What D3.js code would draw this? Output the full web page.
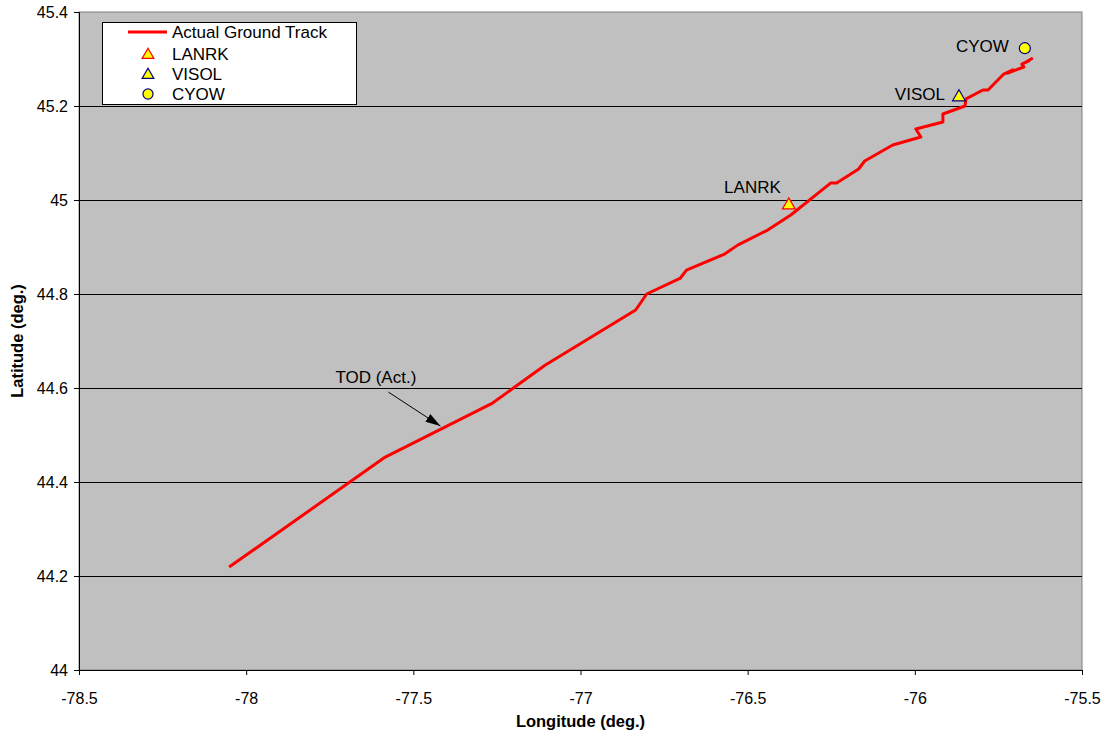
<!DOCTYPE html>
<html>
<head>
<meta charset="utf-8">
<script src="https://cdn.jsdelivr.net/npm/d3@7"></script>
<style>
  body { margin: 0; background: #fff; }
  svg { display: block; font-family: "Liberation Sans", Arial, sans-serif; }
</style>
</head>
<body>
<svg id="chart" width="1106" height="737"></svg>
<script>
// Ground track (longitude, latitude in degrees)
const trackLon = [-78.051, -77.584, -77.263, -77.105, -76.835, -76.802, -76.701, -76.683,
  -76.569, -76.530, -76.440, -76.371, -76.252, -76.234, -76.168, -76.150, -76.066,
  -75.982, -75.997, -75.916, -75.916, -75.850, -75.847, -75.796, -75.781, -75.734,
  -75.707, -75.722, -75.674, -75.680, -75.659, -75.674, -75.647];
const trackLat = [44.219, 44.453, 44.568, 44.649, 44.766, 44.800, 44.834, 44.851,
  44.885, 44.904, 44.936, 44.968, 45.036, 45.036, 45.066, 45.083, 45.117,
  45.134, 45.151, 45.166, 45.183, 45.200, 45.215, 45.234, 45.234, 45.268,
  45.277, 45.270, 45.283, 45.289, 45.296, 45.291, 45.302];

// Waypoints
const wpNames = ["LANRK", "VISOL", "CYOW"];
const wpLon = [-76.377, -75.868, -75.671];
const wpLat = [44.991, 45.221, 45.323];

// Top of descent (actual)
const todLon = -77.419;
const todLat = 44.519;

// Axis ticks
const xTicks = [-78.5, -78, -77.5, -77, -76.5, -76, -75.5];
const yTicks = [44, 44.2, 44.4, 44.6, 44.8, 45, 45.2, 45.4];

const svg = d3.select("#chart");
const plotL = 79, plotR = 1082, plotT = 12, plotB = 670;

const x = d3.scaleLinear().domain([-78.5, -75.5]).range([plotL, plotR]);
const y = d3.scaleLinear().domain([44, 45.4]).range([plotB, plotT]);

// plot area
svg.append("rect")
  .attr("x", plotL).attr("y", plotT)
  .attr("width", plotR - plotL).attr("height", plotB - plotT)
  .attr("fill", "#c0c0c0")
  .attr("stroke", "#808080").attr("stroke-width", 1);

// horizontal gridlines
svg.append("g")
  .selectAll("line")
  .data(yTicks.slice(1, -1))
  .join("line")
  .attr("x1", plotL).attr("x2", plotR)
  .attr("y1", d => Math.round(y(d)) + 0.5).attr("y2", d => Math.round(y(d)) + 0.5)
  .attr("stroke", "#000").attr("stroke-width", 1);

// axes
const fmt = d => String(d);
const xAxis = svg.append("g")
  .attr("transform", `translate(0,${plotB})`)
  .call(d3.axisBottom(x).tickValues(xTicks).tickFormat(fmt).tickSize(5).tickPadding(18));
const yAxis = svg.append("g")
  .attr("transform", `translate(${plotL},0)`)
  .call(d3.axisLeft(y).tickValues(yTicks).tickFormat(fmt).tickSize(5).tickPadding(6));
[xAxis, yAxis].forEach(g => {
  g.select(".domain").attr("stroke", "#000");
  g.selectAll(".tick line").attr("stroke", "#000");
  g.selectAll(".tick text")
    .attr("fill", "#000")
    .style("font-size", "16px")
    .style("font-family", "'Liberation Sans', Arial, sans-serif");
});

// axis titles
svg.append("text")
  .attr("x", (plotL + plotR) / 2).attr("y", 727)
  .attr("text-anchor", "middle")
  .style("font-size", "16.5px").style("font-weight", "bold")
  .text("Longitude (deg.)");
svg.append("text")
  .attr("transform", `translate(23,${(plotT + plotB) / 2}) rotate(-90)`)
  .attr("text-anchor", "middle")
  .style("font-size", "16.5px").style("font-weight", "bold")
  .text("Latitude (deg.)");

// ground track
const track = trackLon.map((lon, i) => [lon, trackLat[i]]);
svg.append("path")
  .datum(track)
  .attr("fill", "none")
  .attr("stroke", "#ff0000")
  .attr("stroke-width", 3)
  .attr("stroke-linejoin", "round")
  .attr("d", d3.line().x(d => x(d[0])).y(d => y(d[1])));

// waypoint markers
const tri = d3.symbol().type(d3.symbolTriangle).size(70);
const circ = d3.symbol().type(d3.symbolCircle).size(95);
const wpStroke = ["#ff0000", "#000080", "#000080"];
const wpShape = [tri, tri, circ];
wpNames.forEach((name, i) => {
  svg.append("path")
    .attr("d", wpShape[i]())
    .attr("transform", `translate(${x(wpLon[i])},${y(wpLat[i]) + (i < 2 ? 1 : 0)})`)
    .attr("fill", "#ffff00")
    .attr("stroke", wpStroke[i]).attr("stroke-width", 1.2);
});

// waypoint labels
const lblDx = [-8, -14, -16];
const lblDy = [-11, 4, 4];
wpNames.forEach((name, i) => {
  svg.append("text")
    .attr("x", x(wpLon[i]) + lblDx[i])
    .attr("y", y(wpLat[i]) + lblDy[i])
    .attr("text-anchor", "end")
    .style("font-size", "17px")
    .text(name);
});

// TOD annotation
svg.append("defs").append("marker")
  .attr("id", "arrow")
  .attr("viewBox", "0 0 10 10")
  .attr("refX", 10).attr("refY", 5)
  .attr("markerWidth", 15).attr("markerHeight", 9)
  .attr("markerUnits", "userSpaceOnUse")
  .attr("orient", "auto")
  .attr("preserveAspectRatio", "none")
  .append("path")
  .attr("d", "M0,0 L10,5 L0,10 Z")
  .attr("fill", "#000");
const tx = x(todLon), ty = y(todLat);
svg.append("line")
  .attr("x1", tx - 52).attr("y1", ty - 34)
  .attr("x2", tx).attr("y2", ty)
  .attr("stroke", "#000").attr("stroke-width", 1)
  .attr("marker-end", "url(#arrow)");
svg.append("text")
  .attr("x", tx - 105).attr("y", ty - 43)
  .style("font-size", "17px")
  .text("TOD (Act.)");

// legend
const lg = svg.append("g");
lg.append("rect")
  .attr("x", 102.5).attr("y", 22.5).attr("width", 254).attr("height", 82)
  .attr("fill", "#fff").attr("stroke", "#000").attr("stroke-width", 1);
lg.append("line")
  .attr("x1", 128).attr("x2", 167).attr("y1", 32).attr("y2", 32)
  .attr("stroke", "#ff0000").attr("stroke-width", 3);
lg.append("text").attr("x", 172).attr("y", 38).style("font-size", "17px").text("Actual Ground Track");
const legRows = [54, 74, 94];
wpNames.forEach((name, i) => {
  lg.append("path")
    .attr("d", d3.symbol().type(i < 2 ? d3.symbolTriangle : d3.symbolCircle).size(i < 2 ? 60 : 80)())
    .attr("transform", `translate(148,${legRows[i] + (i < 2 ? 1 : 0)})`)
    .attr("fill", "#ffff00")
    .attr("stroke", wpStroke[i]).attr("stroke-width", 1.2);
  lg.append("text").attr("x", 172).attr("y", legRows[i] + 6).style("font-size", "17px").text(name);
});
</script>
</body>
</html>
